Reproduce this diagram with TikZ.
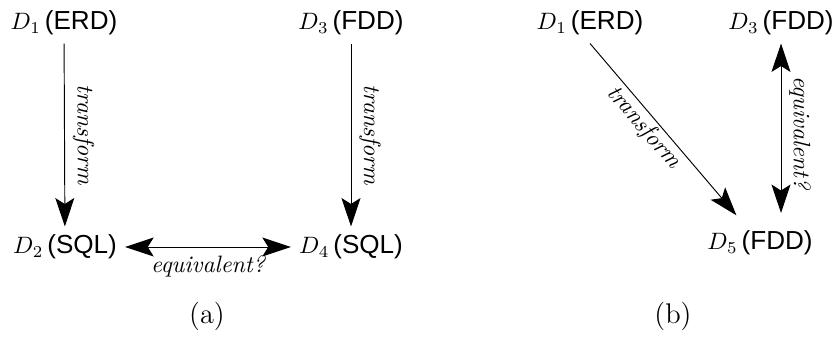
\documentclass[tikz,border=0pt]{standalone}
\usepackage{fontspec}
\setsansfont{Liberation Sans}[Scale=1.1]
\usetikzlibrary{arrows.meta}

\begin{document}
\begin{tikzpicture}[x=0.422pt,y=-0.422pt,
            >={Stealth[length=12pt,width=8pt,inset=2.5pt]},
            lbl/.style={font=\itshape},
            subcap/.style={font=\large}]
            \useasboundingbox (0,0) rectangle (835,338);
            % (a)
            \node (a1) at (64,23) {$D_1$\,\textsf{(ERD)}};
            \node (a3) at (351,23) {$D_3$\,\textsf{(FDD)}};
            \node (a2) at (65,247) {$D_2$\,\textsf{(SQL)}};
            \node (a4) at (351,247) {$D_4$\,\textsf{(SQL)}};
            \draw[->] (a1) -- node[lbl,sloped,above] {transform} (a2);
            \draw[->] (a3) -- node[lbl,sloped,above] {transform} (a4);
            \draw[<->] (a2) -- node[lbl,below] {equivalent?} (a4);
            \node[subcap] (capa) at (207,316) {(a)};
            % (b)
            \node (b1) at (590,23) {$D_1$\,\textsf{(ERD)}};
            \node (b3) at (781,23) {$D_3$\,\textsf{(FDD)}};
            \node (b5) at (760,243) {$D_5$\,\textsf{(FDD)}};
            \draw[->,shorten >=4pt] (b1.south) -- node[lbl,sloped,below,pos=.42,inner sep=1pt] {transform} (b5);
            \draw[<->,shorten >=4pt] (b3.south) -- node[lbl,sloped,above] {equivalent?} (b3.south |- b5.north);
            \node[subcap] (capb) at (673,316) {(b)};
\end{tikzpicture}
\end{document}
